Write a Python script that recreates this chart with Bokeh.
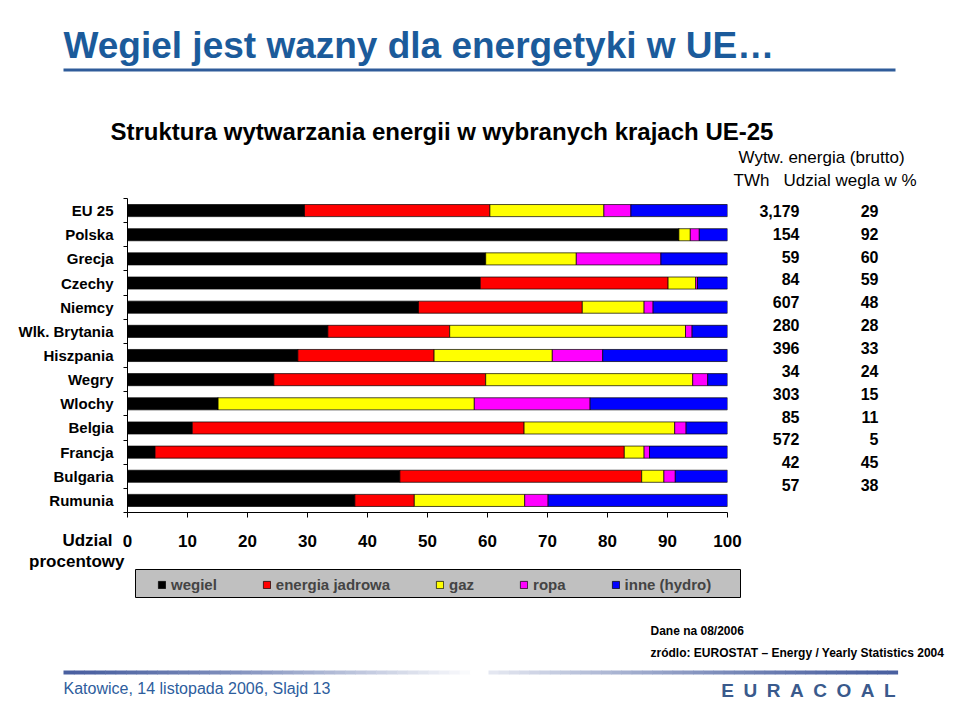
from bokeh.plotting import figure
from bokeh.layouts import column, row
from bokeh.models import (Range1d, FixedTicker, ColumnDataSource, Legend, LegendItem)
from bokeh.core.properties import value
from bokeh.embed import file_html
from bokeh.resources import INLINE

# ---------------- data ----------------
countries = ["EU 25", "Polska", "Grecja", "Czechy", "Niemcy", "Wlk. Brytania",
             "Hiszpania", "Wegry", "Wlochy", "Belgia", "Francja", "Bulgaria", "Rumunia"]
wegiel  = [29.5, 91.9, 59.7, 58.8, 48.5, 33.4, 28.4, 24.4, 15.1, 10.8, 4.6, 45.4, 37.9]
jadrowa = [30.9, 0.0, 0.0, 31.3, 27.3, 20.3, 22.7, 35.3, 0.0, 55.3, 78.2, 40.3, 9.9]
gaz     = [19.0, 1.9, 15.1, 4.6, 10.3, 39.3, 19.7, 34.5, 42.7, 25.1, 3.3, 3.7, 18.4]
ropa    = [4.5, 1.5, 14.1, 0.3, 1.5, 1.1, 8.4, 2.5, 19.3, 1.9, 0.9, 1.9, 3.9]
inne    = [16.1, 4.7, 11.1, 5.0, 12.4, 5.9, 20.8, 3.3, 22.9, 6.9, 13.0, 8.7, 29.9]
twh     = ["3,179", "154", "59", "84", "607", "280", "396", "34", "303", "85", "572", "42", "57"]
udzial_wegla = [29, 92, 60, 59, 48, 28, 33, 24, 15, 11, 5, 45, 38]
x_ticks = [0, 10, 20, 30, 40, 50, 60, 70, 80, 90, 100]
legend_labels = ["wegiel", "energia jadrowa", "gaz", "ropa", "inne (hydro)"]
series_colors = ["#000000", "#ff0000", "#ffff00", "#ff00ff", "#0000ff"]

FONT = "Liberation Sans"
TITLE_BLUE = "#1b5b9b"
FOOT_BLUE = "#2d5d9d"

# ---------------- layout geometry (window pixels) ----------------
W, H = 960, 720
TOP_H = 198                      # chart frame top
FRAME_L, FRAME_R = 127, 727      # chart frame left/right
FRAME_B = 512                    # chart frame bottom
CHART_BOTTOM = 530               # bottom of chart row
CHART_W = 733

n = len(countries)
positions = list(range(n))
unit = (FRAME_B - TOP_H) / n     # pixels per category


def deco_fig(w, h, x0, x1, y_top, y_bot):
    f = figure(width=w, height=h, output_backend="svg", toolbar_location=None,
               x_range=Range1d(x0, x1), y_range=Range1d(y_bot, y_top),
               x_axis_type=None, y_axis_type=None, min_border=0,
               outline_line_color=None, background_fill_color="white",
               border_fill_color="white")
    f.grid.visible = False
    return f


def txt(f, x, y, s, size, bold=False, color="black", align="left", **kw):
    f.text(x=[x], y=[y], text=[s], text_font=value(FONT), text_font_size=f"{size}px",
           text_font_style="bold" if bold else "normal", text_color=color,
           text_align=align, text_baseline="middle", **kw)


# ---------------- top area ----------------
top = deco_fig(W, TOP_H, 0, W, 0, TOP_H)
txt(top, 63, 45, "Wegiel jest wazny dla energetyki w UE\u2026", 37, bold=True, color=TITLE_BLUE)
top.segment(x0=[63], x1=[895], y0=[69.5], y1=[69.5], line_width=3, line_color="#2f5c9a")
txt(top, 110, 131, "Struktura wytwarzania energii w wybranych krajach UE-25", 24, bold=True)
txt(top, 738, 157, "Wytw. energia (brutto)", 17)
txt(top, 733, 180, "TWh", 17)
txt(top, 783, 180, "Udzial wegla w %", 17)

# ---------------- chart ----------------
src = ColumnDataSource(dict(
    y=positions, s_wegiel=wegiel, s_jadrowa=jadrowa, s_gaz=gaz, s_ropa=ropa, s_inne=inne,
    twh=twh, udz=[str(v) for v in udzial_wegla]))
stackers = ["s_wegiel", "s_jadrowa", "s_gaz", "s_ropa", "s_inne"]

chart = figure(width=CHART_W, height=CHART_BOTTOM - TOP_H, output_backend="svg",
               toolbar_location=None, x_range=Range1d(0, 100), y_range=Range1d(n - 0.5, -0.5),
               min_border_left=FRAME_L, min_border_right=CHART_W - FRAME_R,
               min_border_top=0, min_border_bottom=CHART_BOTTOM - FRAME_B,
               outline_line_color=None, background_fill_color="white", border_fill_color="white")
chart.xgrid.visible = False
chart.ygrid.visible = False

chart.hbar_stack(stackers, y="y", height=0.5, fill_color=series_colors,
                 line_color="black", line_width=0.7, source=src)

yax = chart.yaxis[0]
yax.ticker = FixedTicker(ticks=positions, minor_ticks=[i - 0.5 for i in range(n + 1)])
yax.major_label_overrides = {i: c for i, c in enumerate(countries)}
yax.major_tick_line_color = None
yax.major_tick_out = 0
yax.major_tick_in = 0
yax.minor_tick_out = 4
yax.minor_tick_in = 0
yax.minor_tick_line_color = "black"
yax.axis_line_color = "black"
yax.major_label_standoff = 10
yax.major_label_text_font = FONT
yax.major_label_text_font_style = "bold"
yax.major_label_text_font_size = "15px"
yax.major_label_text_color = "black"

xax = chart.xaxis[0]
xax.ticker = FixedTicker(ticks=x_ticks, minor_ticks=[])
xax.major_tick_out = 5
xax.major_tick_in = 0
xax.major_tick_line_color = "black"
xax.axis_line_color = "black"
xax.major_label_standoff = 0
xax.major_label_text_font_size = "8px"
xax.major_label_text_color = None   # tick labels are drawn on the shared scale below

# ---------------- right data columns ----------------
right = figure(width=W - CHART_W, height=CHART_BOTTOM - TOP_H, output_backend="svg",
               toolbar_location=None, x_range=Range1d(CHART_W, W),
               y_range=Range1d(n - 0.5 + (CHART_BOTTOM - FRAME_B) / unit, -0.5),
               x_axis_type=None, y_axis_type=None, min_border=0, outline_line_color=None,
               background_fill_color="white", border_fill_color="white")
right.grid.visible = False
right.text(x=799, y="y", text="twh", source=src, text_align="right", text_baseline="middle",
           text_font=value(FONT), text_font_style="bold", text_font_size="16px", y_offset=1)
right.text(x=878, y="y", text="udz", source=src, text_align="right", text_baseline="middle",
           text_font=value(FONT), text_font_style="bold", text_font_size="16px", y_offset=1)

# ---------------- bottom area ----------------
bot = deco_fig(W, H - CHART_BOTTOM, 0, W, CHART_BOTTOM, H)
pct_per_px = 100 / (FRAME_R - FRAME_L)
bot.extra_x_ranges = {"pct": Range1d(-FRAME_L * pct_per_px, (W - FRAME_L) * pct_per_px)}

# x tick labels (same percentage scale as the chart)
bot.text(x=x_ticks, y=[540] * len(x_ticks), text=[str(t) for t in x_ticks], x_range_name="pct",
         text_align="center", text_baseline="middle", text_font=value(FONT),
         text_font_style="bold", text_font_size="17px")
txt(bot, 112, 540, "Udzial", 17, bold=True, align="right")
txt(bot, 124, 561, "procentowy", 17, bold=True, align="right")

# legend box
bot.quad(left=[135], right=[740], top=[569], bottom=[597], fill_color="#c0c0c0",
         line_color="black", line_width=1)
# legend proxies: same stacked data, hidden in this panel (only their style feeds the legend)
proxies = bot.hbar_stack(stackers, y="y", height=0.5, fill_color=series_colors,
                         line_color="black", line_width=0.7, source=src, visible=False)
legend = Legend(items=[LegendItem(label=value(l), renderers=[r])
                       for l, r in zip(legend_labels, proxies)],
                orientation="horizontal", location=(157, H - 573 - 20), padding=0, margin=0,
                spacing=45, glyph_width=9, glyph_height=9, label_standoff=5,
                label_text_font=FONT, label_text_font_style="bold",
                label_text_font_size="15px", border_line_color=None,
                background_fill_alpha=0, inactive_fill_alpha=0)
bot.add_layout(legend)

# footer notes
txt(bot, 650, 630, "Dane na 08/2006", 12, bold=True)
txt(bot, 650, 652, "zródlo: EUROSTAT \u2013 Energy / Yearly Statistics 2004", 12, bold=True)

# gradient footer line
end_rgb = (74, 96, 160)
n_seg = 40
gx0, gx1, gc = [], [], []
for k in range(n_seg):
    t = k / (n_seg - 1)
    for (a0, a1, f) in ((63, 480, t ** 1.3), (488, 897, (1 - t) ** 1.3 * 0.85)):
        gx0.append(a0 + (a1 - a0) * k / n_seg)
        gx1.append(a0 + (a1 - a0) * (k + 1) / n_seg + 0.6)
        c = tuple(int(round(e + (255 - e) * f)) for e in end_rgb)
        gc.append("#%02x%02x%02x" % c)
bot.segment(x0=gx0, x1=gx1, y0=[672] * len(gx0), y1=[672] * len(gx0), line_width=4,
            line_color=gc, line_cap="butt")

txt(bot, 63, 688, "Katowice, 14 listopada 2006, Slajd 13", 16, color=FOOT_BLUE)
txt(bot, 895, 690, "E\u2002U\u2002R\u2002A\u2002C\u2002O\u2002A\u2002L", 19, bold=True,
    color="#3a5a8c", align="right")

layout = column(top, row(chart, right), bot)
open("out.html", "w").write(file_html(layout, INLINE))
